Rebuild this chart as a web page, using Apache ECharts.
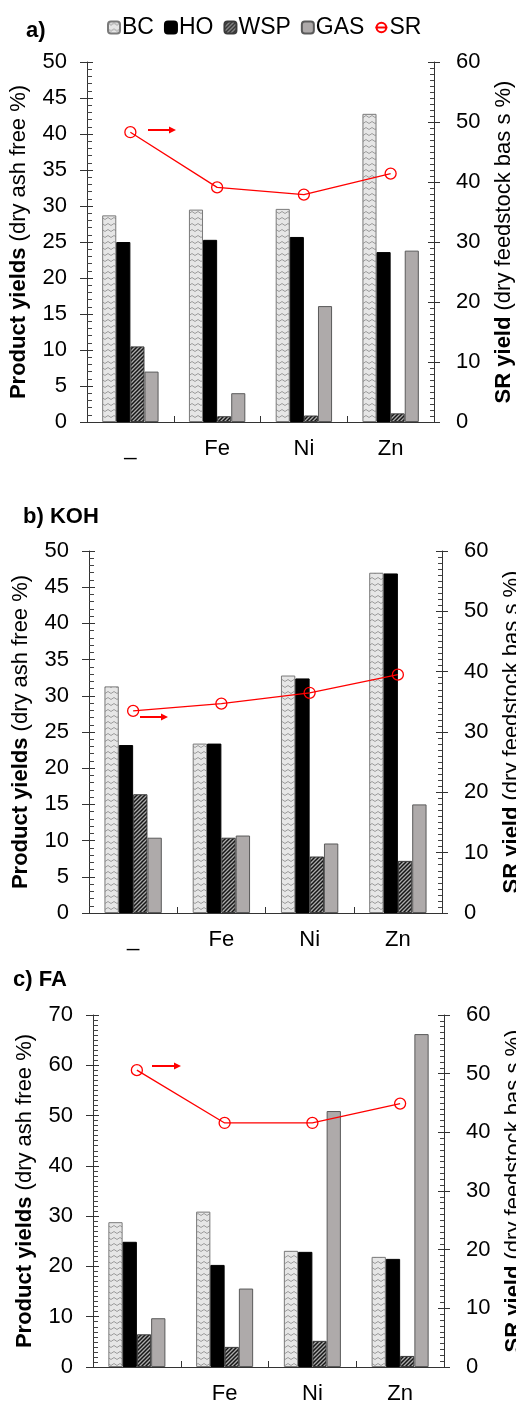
<!DOCTYPE html>
<html>
<head>
<meta charset="utf-8">
<script src="https://cdn.jsdelivr.net/npm/echarts@6/dist/echarts.min.js"></script>
<style>
  html, body { margin: 0; padding: 0; background: #fff; }
  #chart { width: 516px; height: 1404px; }
</style>
</head>
<body>
<div id="chart"></div>
<script>
// categories
const catsAB = ['_', 'Fe', 'Ni', 'Zn'];
const catsC = ['', 'Fe', 'Ni', 'Zn'];

// a)
const bcA = [28.7, 29.5, 29.6, 42.8];
const hoA = [25.0, 25.3, 25.7, 23.6];
const wspA = [10.5, 0.8, 0.9, 1.2];
const gasA = [7.0, 4.0, 16.1, 23.8];
const srA = [48.3, 39.1, 37.9, 41.4];

// b) KOH
const bcB = [31.3, 23.4, 32.8, 47.0];
const hoB = [23.2, 23.4, 32.4, 46.9];
const wspB = [16.4, 10.4, 7.8, 7.2];
const gasB = [10.4, 10.7, 9.6, 15.0];
const srB = [33.5, 34.7, 36.5, 39.5];

// c) FA
const bcC = [28.8, 30.9, 23.1, 21.9];
const hoC = [24.9, 20.3, 22.9, 21.5];
const wspC = [6.5, 4.0, 5.2, 2.2];
const gasC = [9.7, 15.6, 50.9, 66.2];
const srC = [50.6, 41.6, 41.6, 44.9];

const leftMax = [50, 50, 70];
const leftStep = [5, 5, 10];
const leftMinor = [5, 5, 10];
const rightMax = [60, 60, 60];
const rightStep = [10, 10, 10];

const panels = [
  { cats: catsAB, bc: bcA, ho: hoA, wsp: wspA, gas: gasA, sr: srA },
  { cats: catsAB, bc: bcB, ho: hoB, wsp: wspB, gas: gasB, sr: srB },
  { cats: catsC, bc: bcC, ho: hoC, wsp: wspC, gas: gasC, sr: srC }
];

const gridBoxes = [
  { left: 87, right: 82, top: 62, height: 360, containLabel: false, outerBoundsMode: 'none' },
  { left: 89, right: 74, top: 551, height: 362, containLabel: false, outerBoundsMode: 'none' },
  { left: 93, right: 72, top: 1015, height: 352, containLabel: false, outerBoundsMode: 'none' }
];
// grids 0-2 hold the chart, grids 3-5 overlay them for the axis names and outer tick halves
const grids = gridBoxes.concat(gridBoxes.map(g => Object.assign({}, g)));

// fill patterns
function bcPattern() {
  const c = document.createElement('canvas');
  c.width = 6; c.height = 6;
  const g = c.getContext('2d');
  g.fillStyle = '#e6e6e6';
  g.fillRect(0, 0, 6, 6);
  g.strokeStyle = '#9c9c9c';
  g.lineWidth = 1;
  g.beginPath();
  g.moveTo(0, 1.5); g.lineTo(3, 3.5); g.lineTo(6, 1.5);
  g.stroke();
  return c;
}
function wspPattern() {
  const c = document.createElement('canvas');
  c.width = 4; c.height = 4;
  const g = c.getContext('2d');
  g.fillStyle = '#aaaaaa';
  g.fillRect(0, 0, 4, 4);
  g.strokeStyle = '#151515';
  g.lineWidth = 1.5;
  g.beginPath();
  g.moveTo(-1, 5); g.lineTo(5, -1);
  g.moveTo(-1, 1); g.lineTo(1, -1);
  g.moveTo(3, 5); g.lineTo(5, 3);
  g.stroke();
  return c;
}
const bcFill = { image: bcPattern(), repeat: 'repeat' };
const wspFill = { image: wspPattern(), repeat: 'repeat' };

const axisColor = '#333';
const font = 'Liberation Sans, Arial, sans-serif';
const nameStyle = { color: '#000', fontSize: 22, fontFamily: font,
  rich: { b: { fontWeight: 'bold', fontSize: 22, fontFamily: font, color: '#000' } } };

const xAxis = [];
const yAxis = [];
const series = [];

panels.forEach((p, i) => {
  xAxis.push({
    type: 'category',
    gridIndex: i,
    data: p.cats,
    axisLine: { lineStyle: { color: axisColor, width: 1 } },
    axisTick: { show: true, inside: true, length: 6, interval: 0, lineStyle: { color: axisColor } },
    axisLabel: { color: '#000', fontSize: 22, fontFamily: font, margin: 16, interval: 0 }
  });
  // left: line, labels, inside ticks and minor ticks
  yAxis.push({
    type: 'value', gridIndex: i, position: 'left',
    min: 0, max: leftMax[i], interval: leftStep[i],
    axisLine: { show: true, lineStyle: { color: axisColor } },
    axisTick: { show: true, inside: true, length: 6, lineStyle: { color: axisColor, width: 1 } },
    minorTick: { show: true, splitNumber: leftMinor[i], length: 5, lineStyle: { color: '#444', width: 1 } },
    axisLabel: { color: '#000', fontSize: 22, fontFamily: font, margin: 20 },
    splitLine: { show: false }
  });
  // right
  yAxis.push({
    type: 'value', gridIndex: i, position: 'right',
    min: 0, max: rightMax[i], interval: rightStep[i],
    axisLine: { show: true, lineStyle: { color: axisColor } },
    axisTick: { show: true, inside: true, length: 6, lineStyle: { color: axisColor, width: 1 } },
    minorTick: { show: true, splitNumber: 10, length: 4, lineStyle: { color: '#444', width: 1 } },
    axisLabel: { color: '#000', fontSize: 22, fontFamily: font, margin: 22 },
    splitLine: { show: false }
  });

  const barBase = { type: 'bar', xAxisIndex: i, yAxisIndex: 2 * i, barGap: '0%', barCategoryGap: '35%' };
  series.push(Object.assign({}, barBase, { name: 'BC', data: p.bc,
    itemStyle: { color: bcFill, borderColor: '#7a7a7a', borderWidth: 1 } }));
  series.push(Object.assign({}, barBase, { name: 'HO', data: p.ho,
    itemStyle: { color: '#000', borderColor: '#000', borderWidth: 1 } }));
  series.push(Object.assign({}, barBase, { name: 'WSP', data: p.wsp,
    itemStyle: { color: wspFill, borderColor: '#3a3a3a', borderWidth: 1 } }));
  series.push(Object.assign({}, barBase, { name: 'GAS', data: p.gas,
    itemStyle: { color: '#aeaaaa', borderColor: '#5a5a5a', borderWidth: 1 } }));
  series.push({
    name: 'SR', type: 'line', xAxisIndex: i, yAxisIndex: 2 * i + 1, data: p.sr,
    symbol: 'circle', symbolSize: 11, z: 5,
    itemStyle: { color: 'rgba(255,255,255,0)', borderColor: '#ff0000', borderWidth: 1.3 },
    lineStyle: { color: '#ff0000', width: 1.3 }
  });
});

// overlay axes: axis names and the outer halves of the major ticks
panels.forEach((p, i) => {
  xAxis.push({ type: 'category', gridIndex: i + 3, data: p.cats, show: false });
  yAxis.push({
    type: 'value', gridIndex: i + 3, position: 'left',
    min: 0, max: leftMax[i], interval: leftStep[i],
    name: '{b|Product yields} (dry ash free %)',
    nameLocation: 'middle', nameRotate: 90, nameGap: 57, nameTextStyle: nameStyle,
    axisLine: { show: false },
    axisTick: { show: true, inside: false, length: 7, lineStyle: { color: axisColor, width: 1 } },
    axisLabel: { show: false },
    splitLine: { show: false }
  });
  yAxis.push({
    type: 'value', gridIndex: i + 3, position: 'right',
    min: 0, max: rightMax[i], interval: rightStep[i],
    name: '{b|SR yield} (dry feedstock bas s %)',
    nameLocation: 'middle', nameRotate: 90, nameGap: 59, nameTextStyle: nameStyle,
    axisLine: { show: false },
    axisTick: { show: true, inside: false, length: 6, lineStyle: { color: axisColor, width: 1 } },
    axisLabel: { show: false },
    splitLine: { show: false }
  });
});

// small red arrows pointing to the SR axis
function arrow(x1, x2, y) {
  return {
    type: 'group',
    children: [
      { type: 'line', shape: { x1: x1, y1: y, x2: x2 - 5, y2: y }, style: { stroke: '#ff0000', lineWidth: 2 } },
      { type: 'polygon', shape: { points: [[x2 - 7, y - 3.5], [x2, y], [x2 - 7, y + 3.5]] }, style: { fill: '#ff0000' } }
    ]
  };
}

const titleStyle = { fontSize: 22, fontWeight: 'bold', color: '#000', fontFamily: font };

const option = {
  animation: false,
  backgroundColor: '#fff',
  title: [
    { text: 'a)', left: 26, top: 20, textStyle: titleStyle, padding: 0 },
    { text: 'b) KOH', left: 23, top: 506, textStyle: titleStyle, padding: 0 },
    { text: 'c) FA', left: 13, top: 969, textStyle: titleStyle, padding: 0 }
  ],
  legend: {
    data: ['BC', 'HO', 'WSP', 'GAS', 'SR'],
    left: 102, top: 11,
    itemWidth: 12, itemHeight: 12, itemGap: 10,
    textStyle: { color: '#000', fontSize: 23, fontFamily: font, padding: [0, 0, 0, -3] }
  },
  grid: grids,
  xAxis: xAxis,
  yAxis: yAxis,
  series: series,
  graphic: [arrow(148, 176, 130), arrow(140, 168, 717), arrow(152, 181, 1066)]
};

const chart = echarts.init(document.getElementById('chart'));
chart.setOption(option);
</script>
</body>
</html>
